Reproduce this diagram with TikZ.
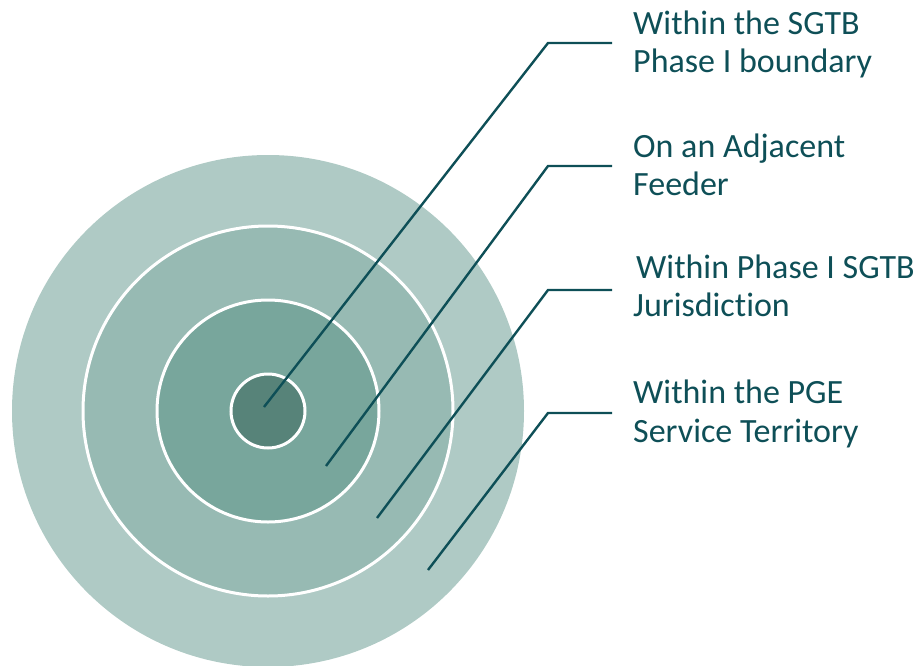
\documentclass[tikz,border=0pt]{standalone}
\usepackage{fontspec}
\setmainfont{Carlito}[Ligatures=NoCommon,RawFeature={-liga;-dlig;-clig}]
\definecolor{txt}{HTML}{0E4F57}
\definecolor{ringA}{HTML}{AFCAC5}
\definecolor{ringB}{HTML}{97BAB3}
\definecolor{ringC}{HTML}{78A69C}
\definecolor{ringD}{HTML}{578379}
\begin{document}
\begin{tikzpicture}[x=1pt,y=-1pt,
  ring/.style={draw=white,line width=3pt},
  leader/.style={draw=txt,line width=2.4pt},
  lbl/.style={anchor=base west,inner sep=0pt,text=txt,font=\fontsize{34}{38}\selectfont}]
\useasboundingbox (0,0) rectangle (922,665);
\begin{scope}
\clip (0,0) rectangle (922,665);
\fill[ringA] (268,411) circle (256);
\draw[ring,fill=ringB] (268,411) circle (185);
\draw[ring,fill=ringC] (268,411) circle (111);
\draw[ring,fill=ringD] (268,411) circle (37);
\end{scope}
% end points inside rings
\coordinate (p1) at (264,407);
\coordinate (p2) at (326,466);
\coordinate (p3) at (377,518);
\coordinate (p4) at (428,570);
% elbows
\coordinate (k1) at (548,43);
\coordinate (k2) at (548,166);
\coordinate (k3) at (548,290);
\coordinate (k4) at (548,413);
\coordinate (e1) at (612,43);
\coordinate (e2) at (612,166);
\coordinate (e3) at (612,290);
\coordinate (e4) at (612,413);
\draw[leader] (p1) -- (k1) -- (e1);
\draw[leader] (p2) -- (k2) -- (e2);
\draw[leader] (p3) -- (k3) -- (e3);
\draw[leader] (p4) -- (k4) -- (e4);
% labels
\node[lbl] (l1a) at (633,34) {Within the SGTB};
\node[lbl] (l1b) at (633,72) {Phase I boundary};
\node[lbl] (l2a) at (633,157) {On an Adjacent};
\node[lbl] (l2b) at (633,195) {Feeder};
\node[lbl] (l3a) at (636,278) {Within Phase I SGTB};
\node[lbl] (l3b) at (633,316) {Jurisdic\kern0pt tion};
\node[lbl] (l4a) at (633,403) {Within the PGE};
\node[lbl] (l4b) at (633,442) {Service Territory};
\end{tikzpicture}
\end{document}
